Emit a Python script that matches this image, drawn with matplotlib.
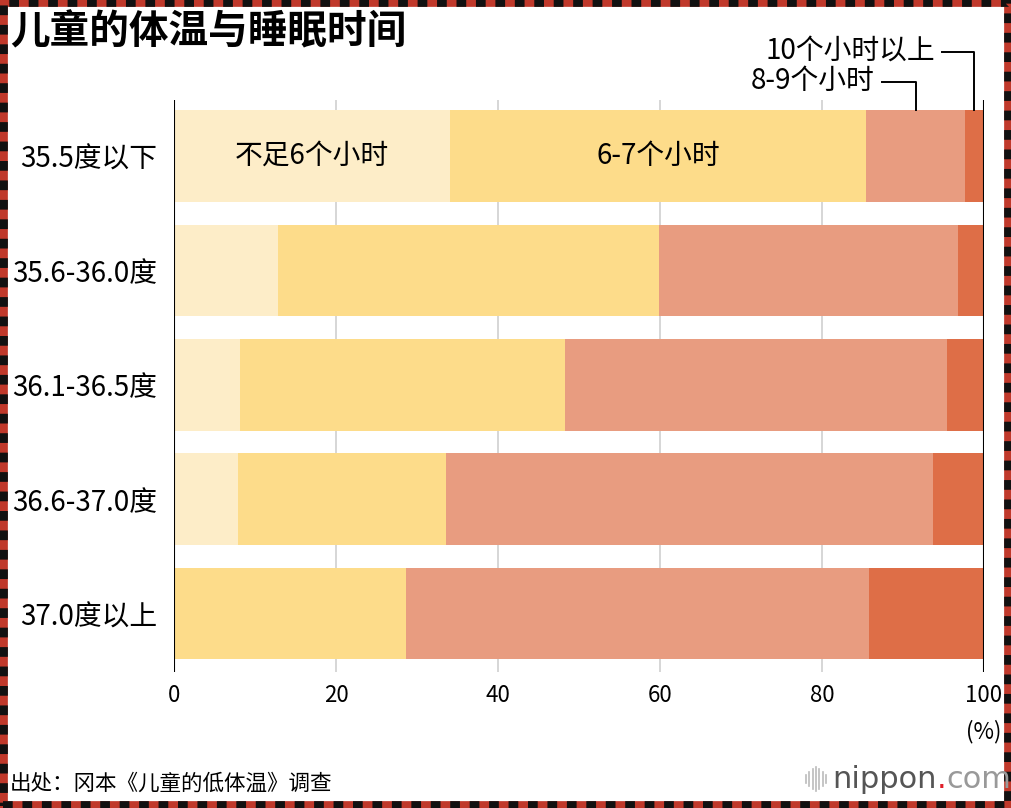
"""
儿童的体温与睡眠时间 - stacked horizontal bar chart.
Saves out.png.
"""
import matplotlib.pyplot as plt
from matplotlib.patches import Rectangle
import numpy as np

plt.rcParams['font.family'] = ['Noto Sans CJK SC', 'DejaVu Sans']

# Data (percent)
categories = ['35.5度以下', '35.6-36.0度', '36.1-36.5度', '36.6-37.0度', '37.0度以上']
series_names = ['不足6个小时', '6-7个小时', '8-9个小时', '10个小时以上']
under6 = [34.1, 12.8, 8.1, 7.9, 0.0]
h6_7 = [51.3, 47.1, 40.2, 25.7, 28.6]
h8_9 = [12.3, 36.9, 47.1, 60.1, 57.2]
h10plus = [2.3, 3.2, 4.6, 6.3, 14.2]
ticks = [0, 20, 40, 60, 80, 100]

colors = ['#FDEDC8', '#FDDC8A', '#E89C80', '#DE6E47']

W, H = 1012, 808
fig = plt.figure(figsize=(W / 100, H / 100), dpi=100)
ax = fig.add_axes([174 / W, 1 - 672 / H, (984 - 174) / W, (672 - 100) / H])

y = np.arange(len(categories))
left = np.zeros(len(categories))
for vals, c in zip([under6, h6_7, h8_9, h10plus], colors):
    ax.barh(y, vals, left=left, height=0.80, color=c, zorder=2)
    left += np.array(vals)

ax.set_xlim(0, 100)
ax.set_ylim(4.51, -0.49)
for s in ax.spines.values():
    s.set_visible(False)
for t in ticks:
    if t in (0, 100):
        ax.axvline(t, color='black', lw=1.5, zorder=3)
    else:
        ax.axvline(t, color='#CFCFCF', lw=1.2, zorder=1)
ax.set_xticks(ticks)
ax.set_xticklabels([str(t) for t in ticks], fontsize=16)
ax.set_yticks(y)
ax.set_yticklabels(categories, fontsize=20)
ax.tick_params(axis='both', length=0)
ax.tick_params(axis='x', pad=9)
ax.tick_params(axis='y', pad=12)

# in-bar labels on the first row
ax.text(under6[0] / 2, 0, series_names[0], ha='center', va='center', fontsize=20, zorder=4)
ax.text(under6[0] + h6_7[0] / 2, 0, series_names[1], ha='center', va='center', fontsize=20, zorder=4)

# callouts for the two small segments
x89 = 91.6
x10 = 98.8
ax.plot([x89, x89, x89 - 4.2], [-0.40, -0.645, -0.645], color='black', lw=1.4, clip_on=False)
ax.text(x89 - 5.1, -0.66, series_names[2], ha='right', va='center', fontsize=20)
ax.plot([x10, x10, x10 - 4.0], [-0.40, -0.907, -0.907], color='black', lw=1.4, clip_on=False)
ax.text(x10 - 4.8, -0.92, series_names[3], ha='right', va='center', fontsize=20)

ax.text(1.0, -0.105, '(%)', transform=ax.transAxes, ha='center', va='center', fontsize=16)

# title and source
fig.text(10 / W, 1 - 32 / H, '儿童的体温与睡眠时间', ha='left', va='center',
         fontsize=28.5, fontweight='bold')
fig.text(10 / W, 1 - 784 / H, '出处：冈本《儿童的低体温》调查', ha='left', va='center',
         fontsize=15.5)

# logo
for i, xx in enumerate(np.linspace(806, 826, 7)):
    hh = [8, 14, 20, 24, 20, 14, 8][i]
    fig.add_artist(plt.Line2D([xx / W, xx / W], [1 - (779 + hh / 2) / H, 1 - (779 - hh / 2) / H],
                              color='#BBBBBB', lw=1.2))
fig.canvas.draw()
rend = fig.canvas.get_renderer()
xpos = 832
for part, col in [('nippon', '#555555'), ('.', '#E0202A'), ('com', '#999999')]:
    t = fig.text(xpos / W, 1 - 779 / H, part, ha='left', va='center', fontsize=22,
                 color=col, family='DejaVu Sans')
    xpos += t.get_window_extent(rend).width

# dashed red/black frame
for lw_, col, ls in [(7, '#C0392B', '-'), (7, '#111111', (0, (1, 1)))]:
    fig.add_artist(Rectangle((0.0025, 0.003), 0.995, 0.994, transform=fig.transFigure,
                             fill=False, edgecolor=col, lw=lw_, linestyle=ls))

fig.savefig('out.png', dpi=100, facecolor='white')
